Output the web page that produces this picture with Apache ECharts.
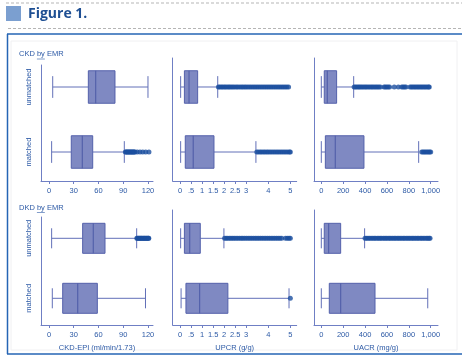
<!DOCTYPE html>
<html>
<head>
<meta charset="utf-8">
<script src="https://cdn.jsdelivr.net/npm/echarts@6/dist/echarts.min.js"></script>
<style>
  html, body { margin: 0; padding: 0; background: #ffffff; }
  #chart { width: 462px; height: 363px; }
</style>
</head>
<body>
<div id="chart"></div>
<script>
// Groups on the vertical axis (index = position: 0 bottom, 1 top)
const groups = ['matched', 'unmatched'];

// Tick values for each measure
const egfrTicks = [0, 30, 60, 90, 120];
const upcrTicks = [0, 0.5, 1, 1.5, 2, 2.5, 3, 4, 5];
const uacrTicks = [0, 200, 400, 600, 800, 1000];

// Box summaries per group: [lower whisker, Q1, median, Q3, upper whisker]
const ckdEgfr = [[3.2, 27, 40.4, 53, 91.3], [4.5, 47.7, 56.6, 80, 120]];
const ckdUpcr = [[0.03, 0.24, 0.6, 1.54, 3.44], [0.03, 0.2, 0.41, 0.8, 1.71]];
const ckdUacr = [[0, 37, 128, 390, 890], [0, 27, 55, 140, 296]];
const dkdEgfr = [[4, 16.6, 34.8, 58.6, 117], [3.2, 40.8, 53.7, 67.9, 106.3]];
const dkdUpcr = [[0.05, 0.27, 0.89, 2.17, 4.94], [0.03, 0.2, 0.44, 0.92, 1.99]];
const dkdUacr = [[0, 73, 177, 491, 973], [0, 27, 67, 177, 396]];

// Outlying observations per group: [matched, unmatched]
const ckdEgfrOut = [
  [92.6, 93.5, 94.4, 95.3, 96.2, 97.1, 98, 98.9, 99.8, 100.7, 101.6, 102.5, 103.4, 104.3, 107, 110.3, 113.6, 117.2, 121.2],
  []
];
const ckdUpcrOut = [
  [3.48, 3.55, 3.63, 3.7, 3.78, 3.85, 3.93, 4.0, 4.08, 4.16, 4.24, 4.32, 4.4, 4.48, 4.56, 4.64, 4.72, 4.8, 4.88, 4.96, 5.0],
  [1.74, 1.8, 1.87, 1.93, 2.0, 2.06, 2.13, 2.2, 2.26, 2.33, 2.4, 2.47, 2.55, 2.62, 2.7, 2.78, 2.85, 2.93, 3.0, 3.08,
   3.16, 3.24, 3.32, 3.4, 3.48, 3.56, 3.64, 3.72, 3.8, 3.88, 3.96, 4.04, 4.12, 4.2, 4.28, 4.36, 4.44, 4.52, 4.6, 4.68,
   4.76, 4.84, 4.92]
];
const ckdUacrOut = [
  [918, 930, 942, 954, 966, 978, 990, 1000],
  [300, 312, 325, 338, 350, 363, 376, 390, 403, 416, 430, 444, 458, 471, 485, 499, 512, 526, 540,
   573, 585, 598, 611, 624, 667, 704, 735, 748, 761, 774,
   811, 824, 837, 850, 863, 876, 889, 902, 915, 928, 941, 954, 967, 980, 987]
];
const dkdEgfrOut = [
  [],
  [106.5, 107.3, 108.2, 109.1, 110, 110.8, 111.7, 112.6, 113.5, 114.4, 115.3, 116.1, 117, 117.9, 118.8, 119.7, 120.6, 121]
];
const dkdUpcrOut = [
  [5.0],
  [2.02, 2.09, 2.16, 2.24, 2.31, 2.39, 2.46, 2.54, 2.62, 2.7, 2.78, 2.85, 2.93, 3.01, 3.09, 3.17, 3.25, 3.33, 3.41, 3.49,
   3.57, 3.65, 3.73, 3.81, 3.89, 3.97, 4.05, 4.13, 4.21, 4.29, 4.37, 4.45, 4.53, 4.61, 4.78, 4.86, 4.94, 5.0]
];
const dkdUacrOut = [
  [],
  [400, 413, 427, 441, 455, 470, 484, 497, 512, 526, 539, 553, 568, 582, 595, 610, 624, 637, 652, 666, 679, 694,
   708, 721, 736, 750, 763, 778, 792, 805, 820, 834, 847, 862, 876, 889, 904, 918, 931, 946, 960, 973, 985, 994]
];

// Row titles: [prefix, underlined word, suffix]
const rowTitles = [['CKD ', 'by', ' EMR'], ['DKD ', 'by', ' EMR']];
const axisNames = ['CKD-EPI (ml/min/1.73)', 'UPCR (g/g)', 'UACR (mg/g)'];

const FONT = '"Liberation Sans", Arial, sans-serif';
const LABEL = '#2d5aa6';
const AXIS = '#6f7fc4';
const BOX_FILL = '#7f89c2';
const BOX_EDGE = '#5461ab';
const WHISKER = '#6270b8';
const DOT = '#1c4f9f';

// Panel layout: [left, top, width, height]
const grids = [
  [41, 65, 112, 116], [172.7, 58, 124, 123], [314, 58, 124, 123],
  [41, 217, 112, 108], [172.7, 210, 124, 115], [314, 210, 124, 115]
];
// Value ranges per column
const xRanges = [[-9.7, 126.1], [-0.33, 5.288], [-66.7, 1066.7]];
const xTicks = [egfrTicks, upcrTicks, uacrTicks];
const xFormat = [
  v => String(v),
  v => (v > 0 && v < 1) ? String(v).replace(/^0/, '') : String(v),
  v => v.toLocaleString('en-US')
];
// Vertical ranges per panel so both rows keep the same group spacing
const yRanges = [
  [-0.446, 1.3386], [-0.446, 1.446], [-0.446, 1.446],
  [-0.445, 1.355], [-0.445, 1.472], [-0.445, 1.472]
];

const summaries = [ckdEgfr, ckdUpcr, ckdUacr, dkdEgfr, dkdUpcr, dkdUacr];
const outliers = [ckdEgfrOut, ckdUpcrOut, ckdUacrOut, dkdEgfrOut, dkdUpcrOut, dkdUacrOut];

function renderBox(params, api) {
  const pos = api.value(0);
  const lo = api.value(1), q1 = api.value(2), med = api.value(3), q3 = api.value(4), hi = api.value(5);
  const pt = v => api.coord([v, pos]);
  const half = api.size([0, 0.25])[1];
  const cap = api.size([0, 0.167])[1];
  const pLo = pt(lo), pQ1 = pt(q1), pMed = pt(med), pQ3 = pt(q3), pHi = pt(hi);
  const y = pLo[1];
  const lineStyle = { stroke: WHISKER, lineWidth: 1 };
  return {
    type: 'group',
    children: [
      { type: 'line', shape: { x1: pLo[0], y1: y, x2: pQ1[0], y2: y }, style: lineStyle },
      { type: 'line', shape: { x1: pQ3[0], y1: y, x2: pHi[0], y2: y }, style: lineStyle },
      { type: 'line', shape: { x1: pLo[0], y1: y - cap, x2: pLo[0], y2: y + cap }, style: lineStyle },
      { type: 'line', shape: { x1: pHi[0], y1: y - cap, x2: pHi[0], y2: y + cap }, style: lineStyle },
      { type: 'rect', shape: { x: pQ1[0], y: y - half, width: pQ3[0] - pQ1[0], height: 2 * half },
        style: { fill: BOX_FILL, stroke: BOX_EDGE, lineWidth: 1 } },
      { type: 'line', shape: { x1: pMed[0], y1: y - half, x2: pMed[0], y2: y + half },
        style: { stroke: BOX_EDGE, lineWidth: 1.2 } }
    ]
  };
}

const option = {
  animation: false,
  backgroundColor: '#ffffff',
  grid: grids.map(g => ({ left: g[0], top: g[1], width: g[2], height: g[3], containLabel: false })),
  xAxis: grids.map((g, i) => {
    const col = i % 3;
    return {
      type: 'value', gridIndex: i,
      min: xRanges[col][0], max: xRanges[col][1],
      splitLine: { show: false },
      axisLine: { show: true, onZero: false, lineStyle: { color: AXIS, width: 1 } },
      axisTick: { show: true, length: 3, customValues: xTicks[col], lineStyle: { color: AXIS } },
      axisLabel: {
        customValues: xTicks[col], formatter: xFormat[col], margin: 6,
        color: LABEL, fontSize: 7.5, fontFamily: FONT
      },
      name: i >= 3 ? axisNames[col] : '',
      nameLocation: 'middle', nameGap: 19,
      nameTextStyle: { color: LABEL, fontSize: 7.5, fontFamily: FONT }
    };
  }),
  yAxis: grids.map((g, i) => ({
    type: 'value', gridIndex: i,
    min: yRanges[i][0], max: yRanges[i][1],
    splitLine: { show: false },
    axisLine: { show: true, onZero: false, lineStyle: { color: AXIS, width: 1 } },
    axisTick: { show: false },
    axisLabel: {
      show: i % 3 === 0,
      customValues: [0, 1],
      formatter: v => groups[Math.round(v)],
      rotate: 90, margin: 8,
      color: LABEL, fontSize: 7.5, fontFamily: FONT
    }
  })),
  series: [],
  graphic: []
};

summaries.forEach((summ, i) => {
  option.series.push({
    type: 'custom', xAxisIndex: i, yAxisIndex: i,
    renderItem: renderBox,
    encode: { x: [1, 2, 3, 4, 5], y: 0 },
    data: summ.map((s, gi) => [gi].concat(s)),
    z: 2
  });
  const pts = [];
  outliers[i].forEach((list, gi) => list.forEach(v => pts.push([v, gi])));
  option.series.push({
    type: 'scatter', xAxisIndex: i, yAxisIndex: i,
    symbol: 'circle', symbolSize: 5,
    itemStyle: { color: DOT },
    data: pts, z: 3
  });
});

// Page furniture: header, frame and row titles
option.graphic = [
  { type: 'line', shape: { x1: 6, y1: 3, x2: 462, y2: 3 },
    style: { stroke: '#b5b5b5', lineWidth: 1, lineDash: [3, 2] } },
  { type: 'rect', shape: { x: 6, y: 6, width: 15, height: 15 }, style: { fill: '#7b9fd0' } },
  { type: 'text', x: 28, y: 14, style: { text: 'Figure 1.', fill: '#1e4f93', font: 'bold 14px "Open Sans", sans-serif', textVerticalAlign: 'middle' } },
  { type: 'line', shape: { x1: 8, y1: 28.5, x2: 462, y2: 28.5 },
    style: { stroke: '#b5b5b5', lineWidth: 1, lineDash: [3, 2] } },
  { type: 'line', shape: { x1: 7, y1: 34, x2: 462, y2: 34 }, style: { stroke: '#2565b5', lineWidth: 1.5 } },
  { type: 'line', shape: { x1: 7.5, y1: 34, x2: 7.5, y2: 354 }, style: { stroke: '#2565b5', lineWidth: 1.5 } },
  { type: 'line', shape: { x1: 7, y1: 354, x2: 462, y2: 354 }, style: { stroke: '#2565b5', lineWidth: 1.5 } },
  { type: 'rect', shape: { x: 11, y: 41, width: 446, height: 309 }, style: { fill: 'none', stroke: '#f0f0f2', lineWidth: 1 } }
];

// Measure the title prefix so the underline sits beneath "by"
const measureCtx = document.createElement('canvas').getContext('2d');
const titleFont = '7.5px ' + FONT;
measureCtx.font = titleFont;
[54, 207.5].forEach((y, r) => {
  const [pre, word, post] = rowTitles[r];
  const x0 = 19 + measureCtx.measureText(pre).width;
  const w = measureCtx.measureText(word).width;
  option.graphic.push({ type: 'text', x: 19, y: y,
    style: { text: pre + word + post, fill: LABEL, font: titleFont, textVerticalAlign: 'middle' } });
  option.graphic.push({ type: 'line', shape: { x1: x0, y1: y + 5, x2: x0 + w, y2: y + 5 },
    style: { stroke: LABEL, lineWidth: 0.6 } });
});

const chart = echarts.init(document.getElementById('chart'), null, { renderer: 'canvas' });
chart.setOption(option);
</script>
</body>
</html>
